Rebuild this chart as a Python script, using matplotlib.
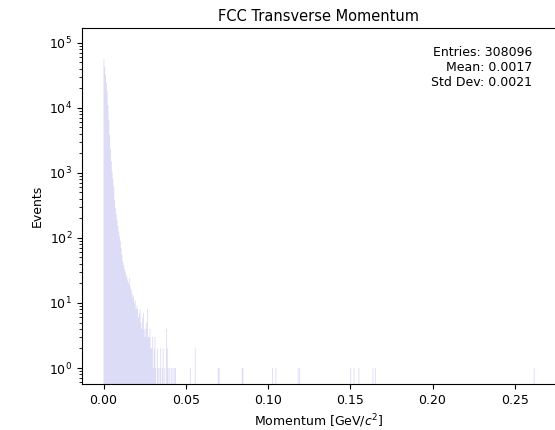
import numpy as np
import matplotlib
matplotlib.use("Agg")
import matplotlib.pyplot as plt

# transverse momentum histogram, bin width 0.0005 GeV
bin_width = 0.0005
x_max = 0.2625

# counts of the dense part, bins starting at 0.0000
dense_counts = [
    56000, 42000, 32000, 24000, 18000, 11000, 6500, 3800, 2300, 1500,
    1050, 800, 600, 380, 290, 230, 190, 150, 125, 105,
    90, 70, 55, 44, 38, 33, 30, 27, 25, 22,
    20, 24, 18, 16, 14, 12, 13, 10, 11, 8,
    9, 8, 6, 7, 8, 5, 4, 6, 7, 4,
    3, 4, 5, 8, 3, 3, 4, 2, 2, 3,
    1, 2, 3, 1, 0, 2, 1, 0, 1, 2,
    0, 1, 2, 0, 1, 0, 4, 2, 1, 0,
    1, 0, 1, 0, 1, 0, 1, 1,
]

# isolated bins further out (left edge, count)
sparse_edges = [0.0525, 0.0555, 0.0695, 0.0700, 0.0840, 0.0845, 0.1025, 0.1045,
                0.1180, 0.1190, 0.1500, 0.1520, 0.1550, 0.1635, 0.1650, 0.2615]
sparse_counts = [1, 2, 1, 1, 1, 1, 1, 1, 1, 1, 1, 1, 1, 1, 1, 1]

entries = 308096
mean_val = 0.0017
std_val = 0.0021

n_bins = int(round(x_max / bin_width))
edges = np.arange(n_bins + 1) * bin_width
counts = np.zeros(n_bins)
counts[:len(dense_counts)] = dense_counts
for e, c in zip(sparse_edges, sparse_counts):
    counts[int(round(e / bin_width))] += c

fig = plt.figure(figsize=(5.55, 4.30), dpi=100)
ax = fig.add_axes([0.1477, 0.107, 0.854, 0.828])
ax.stairs(counts, edges, fill=True, facecolor="#dcdcf6", edgecolor="none",
          linewidth=0, baseline=0.01)
ax.set_yscale("log")
ax.set_ylim(0.568, 1.68e5)
ax.set_xlim(-0.0131, 0.275)

ax.set_title("FCC Transverse Momentum", fontsize=10.5, pad=5)
ax.set_xlabel("Momentum [GeV/$c^2$]", fontsize=9)
ax.set_ylabel("Events", fontsize=9)
ax.tick_params(labelsize=9)

stats = f"Entries: {entries}\nMean: {mean_val:.4f}\nStd Dev: {std_val:.4f}"
ax.text(0.95, 0.95, stats, transform=ax.transAxes, ha="right", va="top", fontsize=9)

fig.savefig("out.png", dpi=100)
